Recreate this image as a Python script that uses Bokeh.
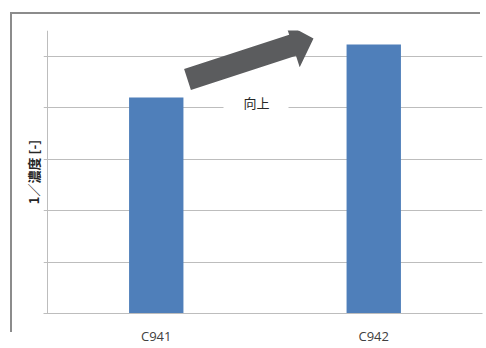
import math
from bokeh.plotting import figure
from bokeh.models import Range1d, FixedTicker, Span, ColumnDataSource, InlineStyleSheet
from bokeh.core.properties import value
from bokeh.embed import file_html
from bokeh.resources import INLINE

# ---- data ----
categories = ["C941", "C942"]
values = [4.20, 5.23]
y_ticks = [0, 1, 2, 3, 4, 5]
y_max = 5.5
note_text = "向上"
y_label = "1／濃度 [-]"

# ---- layout constants ----
W, H = 486, 348
AX = 47            # pixel of the value axis line
FL, FT, FR, FB = 43, 30, 482, 313
FW, FH = FR - FL, FB - FT
ppx = (FR - AX) / len(categories)
ppy = FH / y_max

centers = [i + 0.5 for i in range(len(categories))]

p = figure(width=W, height=H,
           x_range=Range1d(-(AX - FL) / ppx, len(categories)),
           y_range=Range1d(0, y_max), output_backend="svg", toolbar_location=None,
           frame_width=FW, frame_height=FH,
           min_border_left=FL, min_border_top=FT,
           min_border_right=W - FR, min_border_bottom=H - FB)
p.outline_line_color = None
p.background_fill_color = "white"
p.border_fill_color = "white"

grid_col = "#bdbdbd"
p.xgrid.grid_line_color = None
p.ygrid.grid_line_color = grid_col
p.ygrid.ticker = FixedTicker(ticks=y_ticks)

# value axis: label only (no tick labels in the reference)
p.yaxis.ticker = FixedTicker(ticks=[])
p.yaxis.axis_line_color = None
p.yaxis.major_tick_line_color = None
p.yaxis.minor_tick_line_color = None
p.yaxis.major_tick_out = 0
p.yaxis.major_tick_in = 0
p.yaxis.major_label_standoff = 0
p.yaxis.axis_label = y_label
p.yaxis.axis_label_text_font = "Noto Sans CJK JP"
p.yaxis.axis_label_text_font_style = "bold"
p.yaxis.axis_label_text_font_size = "13px"
p.yaxis.axis_label_text_color = "#262626"
p.yaxis.axis_label_standoff = 1

p.add_layout(Span(location=0, dimension="height", line_color=grid_col, line_width=1))

p.xaxis.ticker = FixedTicker(ticks=centers)
p.xaxis.major_label_overrides = {c: lab for c, lab in zip(centers, categories)}
p.xaxis.axis_line_color = grid_col
p.xaxis.major_tick_line_color = None
p.xaxis.major_tick_out = 0
p.xaxis.major_tick_in = 0
p.xaxis.minor_tick_line_color = None
p.xaxis.major_label_standoff = 13
p.xaxis.major_label_text_font = "Open Sans"
p.xaxis.major_label_text_font_size = "13px"
p.xaxis.major_label_text_color = "#404040"

src = ColumnDataSource(dict(x=centers, top=values))
p.vbar(x="x", top="top", width=0.25, source=src, fill_color="#4f7fba", line_color=None)

# pixel -> data helpers for annotations
def dx(px):
    return (px - AX) / ppx
def dy(py):
    return (FB - py) / ppy

# white box behind note text
p.quad(left=[dx(223)], right=[dx(288)], top=[dy(93)], bottom=[dy(113)],
       fill_color="white", line_color=None)
p.text(x=[dx(256)], y=[dy(102)], text=[note_text], text_font=value("Noto Sans CJK JP"),
       text_font_size="13px", text_color="#262626", text_align="center", text_baseline="middle")

# fat arrow
bx, by = 187, 79
tx, ty = 313, 38
L = math.hypot(tx - bx, ty - by)
ux, uy = (tx - bx) / L, (ty - by) / L
nx, ny = -uy, ux
sw, hw, hl = 11, 23, 22
neckx, necky = tx - hl * ux, ty - hl * uy
pts = [
    (bx - sw * nx, by - sw * ny),
    (neckx - sw * nx, necky - sw * ny),
    (neckx - hw * nx, necky - hw * ny),
    (tx, ty),
    (neckx + hw * nx, necky + hw * ny),
    (neckx + sw * nx, necky + sw * ny),
    (bx + sw * nx, by + sw * ny),
]
p.patch(x=[dx(a) for a, b in pts], y=[dy(b) for a, b in pts],
        fill_color="#5b5c5e", line_color=None)

# outer chart border (only left and top edges visible in the reference)
p.stylesheets = [InlineStyleSheet(css="""
:host { position: relative; overflow: hidden; }
:host::before {
  content: ""; position: absolute; left: 10px; top: 12px;
  width: 470px; height: 320px; z-index: 10;
  border-style: solid none none solid;
  border-width: 2px 0 0 2px;
  border-color: #8c8c8c;
  pointer-events: none; box-sizing: border-box;
}
""")]

open("out.html", "w").write(file_html(p, INLINE))
